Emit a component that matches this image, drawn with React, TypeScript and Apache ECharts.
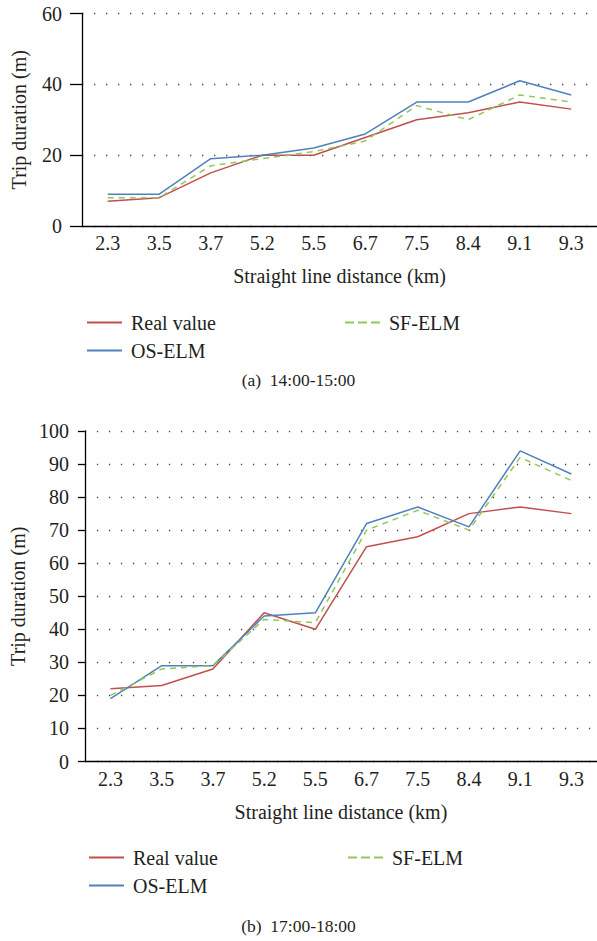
import React, { useEffect, useRef } from "react";
import * as echarts from "echarts";

const categories = ["2.3", "3.5", "3.7", "5.2", "5.5", "6.7", "7.5", "8.4", "9.1", "9.3"];

const realA = [7, 8, 15, 20, 20, 25, 30, 32, 35, 33];
const osA = [9, 9, 19, 20, 22, 26, 35, 35, 41, 37];
const sfA = [8, 8, 17, 19, 21, 24, 34, 30, 37, 35];

const realB = [22, 23, 28, 45, 40, 65, 68, 75, 77, 75];
const osB = [19, 29, 29, 44, 45, 72, 77, 71, 94, 87];
const sfB = [20, 28, 29, 43, 42, 70, 76, 70, 92, 85];

const captionA = "(a)  14:00-15:00";
const captionB = "(b)  17:00-18:00";

const FONT = "'Liberation Serif', 'DejaVu Serif', serif";
const TXT = "#231f20";
const RED = "#c0504d";
const BLUE = "#4f81bd";
const GREEN = "#92c85a";
const FS = 20;

const SOLID_ICON = "path://M0,0h35v2h-35z";
const DASH_ICON = "path://M0,0h9v2h-9z M13,0h9v2h-9z M26,0h9v2h-9z";

export default function App() {
  const ref = useRef<HTMLDivElement>(null);
  useEffect(() => {
    if (!ref.current) return;
    const chart = echarts.init(ref.current, undefined, { renderer: "svg" });
    const xAxisCommon = (gridIndex: number) => ({
      type: "category" as const,
      gridIndex,
      data: categories,
      boundaryGap: true,
      axisLine: { lineStyle: { color: "#000", width: 1.3 } },
      axisTick: { show: false },
      axisLabel: { color: TXT, fontFamily: FONT, fontSize: FS, margin: 7 },
      name: "Straight line distance (km)",
      nameLocation: "middle" as const,
      nameGap: 40,
      nameTextStyle: { color: TXT, fontFamily: FONT, fontSize: FS },
      splitLine: { show: false },
    });
    const yAxisCommon = (gridIndex: number, max: number, interval: number, tick: number, margin: number) => ({
      type: "value" as const,
      gridIndex,
      min: 0,
      max,
      interval,
      axisLine: { show: true, lineStyle: { color: "#000", width: 1.3 } },
      axisTick: { show: true, inside: false, length: tick, lineStyle: { color: "#000", width: 1.3 } },
      axisLabel: { color: TXT, fontFamily: FONT, fontSize: FS, margin },
      splitLine: {
        show: true,
        lineStyle: { color: "#444", width: 1.3, type: [1.3, 10.7], dashOffset: -12 },
      },
      name: "Trip duration (m)",
      nameLocation: "middle" as const,
      nameGap: 53,
      nameTextStyle: { color: TXT, fontFamily: FONT, fontSize: FS },
    });
    const line = (name: string, data: number[], color: string, idx: number, dashed = false) => ({
      type: "line" as const,
      name,
      data,
      xAxisIndex: idx,
      yAxisIndex: idx,
      symbol: "none",
      lineStyle: { color, width: 1.5, type: dashed ? ([6, 5] as any) : "solid" },
      itemStyle: { color },
    });
    const legendCommon = {
      orient: "vertical" as const,
      itemWidth: 35,
      itemHeight: 2,
      itemGap: 8,
      textStyle: { color: TXT, fontFamily: FONT, fontSize: FS, lineHeight: 20, padding: [0, 0, 0, 4] },
      selectedMode: false,
    };
    const legData = (names: string[]) =>
      names.map((n) => ({ name: n, icon: n === "SF-ELM" ? DASH_ICON : SOLID_ICON }));
    chart.setOption({
      animation: false,
      backgroundColor: "#fff",
      textStyle: { fontFamily: FONT },
      grid: [
        { left: 82, top: 13.5, width: 515, height: 212.5 },
        { left: 82, top: 431, width: 515, height: 330.5 },
      ],
      xAxis: [xAxisCommon(0), xAxisCommon(1)],
      yAxis: [yAxisCommon(0, 60, 20, 12, 20), yAxisCommon(1, 100, 10, 7, 16)],
      legend: [
        { ...legendCommon, left: 82, top: 307.5, data: legData(["Real value", "OS-ELM"]) },
        { ...legendCommon, left: 340, top: 307.5, data: legData(["SF-ELM"]) },
        { ...legendCommon, left: 84, top: 842.5, data: legData(["Real value", "OS-ELM"]) },
        { ...legendCommon, left: 343, top: 842.5, data: legData(["SF-ELM"]) },
      ],
      series: [
        line("Real value", realA, RED, 0),
        line("OS-ELM", osA, BLUE, 0),
        line("SF-ELM", sfA, GREEN, 0, true),
        line("Real value", realB, RED, 1),
        line("OS-ELM", osB, BLUE, 1),
        line("SF-ELM", sfB, GREEN, 1, true),
      ],
      graphic: [
        {
          type: "text",
          left: "center",
          top: 371,
          style: { text: captionA, fill: TXT, font: `17.5px 'Liberation Serif', serif` },
        },
        {
          type: "text",
          left: "center",
          top: 917,
          style: { text: captionB, fill: TXT, font: `17.5px 'Liberation Serif', serif` },
        },
      ],
    });
    return () => chart.dispose();
  }, []);
  return (
    <div
      ref={ref}
      style={{ position: "fixed", left: 0, top: 0, width: 597, height: 941, background: "#fff" }}
    />
  );
}
